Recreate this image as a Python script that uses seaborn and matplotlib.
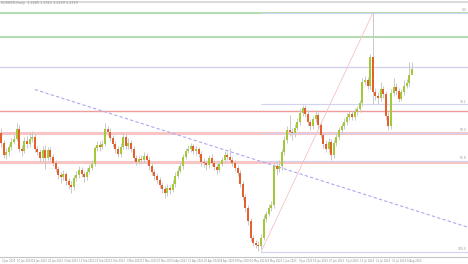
import matplotlib
matplotlib.use("Agg")
import matplotlib.pyplot as plt
import seaborn as sns
import numpy as np

# ---------------- data ----------------
first_open = 1.167
closes = [
    1.157, 1.145, 1.148, 1.153, 1.158, 1.161, 1.171, 1.151, 1.149, 1.159,
    1.156, 1.161, 1.163, 1.151, 1.148, 1.142, 1.150, 1.142, 1.150, 1.143,
    1.137, 1.131, 1.125, 1.123, 1.126, 1.119, 1.115, 1.113, 1.122, 1.125,
    1.130, 1.126, 1.123, 1.128, 1.132, 1.136, 1.152, 1.155, 1.153, 1.156,
    1.171, 1.168, 1.162, 1.156, 1.151, 1.146, 1.153, 1.163, 1.154, 1.157,
    1.151, 1.142, 1.138, 1.141, 1.140, 1.144, 1.140, 1.134, 1.128, 1.124,
    1.120, 1.115, 1.111, 1.107, 1.112, 1.110, 1.116, 1.124, 1.129, 1.134,
    1.143, 1.149, 1.151, 1.154, 1.149, 1.151, 1.146, 1.138, 1.137, 1.135,
    1.142, 1.137, 1.133, 1.130, 1.136, 1.140, 1.145, 1.143, 1.140, 1.137,
    1.132, 1.127, 1.116, 1.103, 1.092, 1.079, 1.062, 1.057, 1.055, 1.054,
    1.062, 1.081, 1.086, 1.092, 1.095, 1.134, 1.131, 1.134, 1.148, 1.160,
    1.170, 1.168, 1.167, 1.172, 1.178, 1.187, 1.192, 1.186, 1.178, 1.174,
    1.181, 1.185, 1.175, 1.165, 1.156, 1.151, 1.158, 1.145, 1.157, 1.163,
    1.170, 1.174, 1.178, 1.183, 1.186, 1.183, 1.188, 1.191, 1.197, 1.218,
    1.220, 1.214, 1.243, 1.208, 1.204, 1.202, 1.211, 1.206, 1.184, 1.174,
    1.207, 1.213, 1.209, 1.201, 1.208, 1.214, 1.217, 1.225, 1.231,
]
highs = [
    1.172, 1.160, 1.152, 1.156, 1.162, 1.166, 1.177, 1.175, 1.155, 1.163,
    1.164, 1.167, 1.169, 1.166, 1.154, 1.151, 1.154, 1.155, 1.153, 1.153,
    1.146, 1.140, 1.134, 1.128, 1.130, 1.128, 1.122, 1.119, 1.125, 1.129,
    1.134, 1.133, 1.129, 1.132, 1.136, 1.140, 1.154, 1.159, 1.159, 1.160,
    1.177, 1.174, 1.172, 1.165, 1.159, 1.154, 1.157, 1.167, 1.166, 1.162,
    1.160, 1.154, 1.145, 1.144, 1.145, 1.148, 1.147, 1.143, 1.137, 1.131,
    1.127, 1.123, 1.118, 1.114, 1.116, 1.115, 1.120, 1.128, 1.133, 1.138,
    1.146, 1.152, 1.155, 1.157, 1.156, 1.154, 1.153, 1.149, 1.142, 1.140,
    1.145, 1.146, 1.140, 1.136, 1.139, 1.143, 1.149, 1.148, 1.152, 1.143,
    1.140, 1.135, 1.130, 1.119, 1.106, 1.095, 1.082, 1.065, 1.060, 1.059,
    1.066, 1.085, 1.089, 1.096, 1.099, 1.137, 1.138, 1.140, 1.151, 1.164,
    1.174, 1.185, 1.172, 1.176, 1.182, 1.191, 1.195, 1.195, 1.190, 1.181,
    1.184, 1.190, 1.188, 1.178, 1.168, 1.160, 1.162, 1.161, 1.160, 1.167,
    1.173, 1.177, 1.182, 1.187, 1.189, 1.189, 1.192, 1.194, 1.200, 1.222,
    1.224, 1.223, 1.246, 1.287, 1.212, 1.208, 1.218, 1.214, 1.209, 1.188,
    1.211, 1.222, 1.217, 1.212, 1.211, 1.220, 1.221, 1.238, 1.238,
]
lows = [
    1.153, 1.142, 1.141, 1.144, 1.150, 1.156, 1.159, 1.148, 1.144, 1.147,
    1.152, 1.153, 1.158, 1.148, 1.145, 1.138, 1.139, 1.131, 1.140, 1.140,
    1.134, 1.128, 1.121, 1.117, 1.120, 1.115, 1.111, 1.107, 1.110, 1.119,
    1.122, 1.123, 1.118, 1.120, 1.126, 1.130, 1.134, 1.149, 1.149, 1.151,
    1.154, 1.165, 1.159, 1.153, 1.147, 1.143, 1.143, 1.151, 1.151, 1.151,
    1.148, 1.139, 1.135, 1.136, 1.136, 1.137, 1.136, 1.130, 1.125, 1.120,
    1.117, 1.112, 1.107, 1.102, 1.104, 1.106, 1.108, 1.113, 1.122, 1.127,
    1.131, 1.141, 1.147, 1.148, 1.146, 1.145, 1.143, 1.134, 1.133, 1.130,
    1.132, 1.134, 1.130, 1.126, 1.128, 1.134, 1.138, 1.140, 1.137, 1.134,
    1.129, 1.124, 1.113, 1.100, 1.088, 1.075, 1.059, 1.054, 1.052, 1.049,
    1.051, 1.060, 1.078, 1.084, 1.089, 1.092, 1.125, 1.128, 1.130, 1.145,
    1.157, 1.164, 1.160, 1.163, 1.170, 1.175, 1.184, 1.183, 1.174, 1.170,
    1.171, 1.178, 1.172, 1.162, 1.152, 1.148, 1.148, 1.140, 1.142, 1.154,
    1.160, 1.167, 1.171, 1.175, 1.180, 1.180, 1.180, 1.185, 1.188, 1.194,
    1.215, 1.211, 1.211, 1.196, 1.200, 1.196, 1.199, 1.202, 1.180, 1.170,
    1.171, 1.204, 1.205, 1.198, 1.199, 1.205, 1.212, 1.214, 1.227,
]
date_labels = [
    "2 Jan 2023", "10 Jan 2023", "18 Jan 2023", "26 Jan 2023", "3 Feb 2023",
    "13 Feb 2023", "21 Feb 2023", "1 Mar 2023", "9 Mar 2023", "17 Mar 2023",
    "27 Mar 2023", "4 Apr 2023", "12 Apr 2023", "20 Apr 2023", "28 Apr 2023",
    "8 May 2023", "16 May 2023", "24 May 2023", "1 Jun 2023", "9 Jun 2023",
    "19 Jun 2023", "27 Jun 2023", "5 Jul 2023", "13 Jul 2023", "21 Jul 2023",
    "31 Jul 2023", "8 Aug 2023",
]
green_levels = [1.287, 1.263]
lavender_levels = [1.233]
red_thin_levels = [1.189]
red_band_levels = [1.167, 1.138]
fib_low, fib_high = 1.048, 1.287
fib_low_idx, fib_high_idx = 100, 143
fib_ratios = [0.0, 0.382, 0.5, 0.618, 1.0]
fib_names = ["0.0", "38.2", "50.0", "61.8", "100.0"]
trend_idx = [13, 143]
trend_val = [1.2105, 1.1030]
header = "EURUSD,Daily  1.2265 1.2312 1.2259 1.2310"

# ---------------- figure ----------------
sns.set_theme(style="white")
plt.rcParams["font.family"] = ["DejaVu Sans"]

W, H = 468, 264
fig = plt.figure(figsize=(W / 100, H / 100), dpi=100)
fig.patch.set_facecolor("white")
ax = fig.add_axes([0, 7 / H, 1, 255 / H])
ax.set_facecolor("white")

n = len(closes)
idx = np.arange(n)
opens = np.array([first_open] + closes[:-1])
cl = np.array(closes)
hi = np.array(highs)
lo = np.array(lows)

dx = 2.6
ax.set_xlim(-1 / dx, (W - 1) / dx)
ax.set_ylim(1.043, 1.298)

# horizontal levels
for lv in green_levels:
    ax.axhline(lv, color="#a6d7a0", lw=1.2, zorder=1)
for lv in lavender_levels:
    ax.axhline(lv, color="#cfcfee", lw=0.9, zorder=1)
for lv in red_thin_levels:
    ax.axhline(lv, color="#f29a9a", lw=1.0, zorder=1)
for lv in red_band_levels:
    ax.axhline(lv, color="#f9c4c4", lw=2.2, zorder=1)

# fibonacci
x_end = (W - 1) / dx
for r, name in zip(fib_ratios, fib_names):
    lv = fib_high - (fib_high - fib_low) * r
    ax.plot([fib_low_idx, x_end], [lv, lv], color="#d2d2f2", lw=0.8, zorder=1.5)
    ax.text(0.997, lv + 0.0006, name, transform=ax.get_yaxis_transform(),
            ha="right", va="bottom", fontsize=2.2, color="#9a9a9a")
ax.plot([fib_low_idx, fib_high_idx], [fib_low, fib_high],
        color="#f6c2c2", lw=0.6, zorder=1.5)

# trend line (dashed)
slope = (trend_val[1] - trend_val[0]) / (trend_idx[1] - trend_idx[0])
tx = np.array([trend_idx[0], x_end + 2])
ty = trend_val[0] + slope * (tx - trend_idx[0])
sns.lineplot(x=tx, y=ty, ax=ax, color="#aaaaf0", lw=0.8, linestyle=(0, (3, 2)),
             zorder=2)

# candles
up = cl >= opens
ax.vlines(idx, lo, hi, color="#c9c9c9", lw=0.7, zorder=3)
body_bot = np.minimum(opens, cl)
body_h = np.maximum(np.abs(cl - opens), 0.0007)
ax.bar(idx[up], body_h[up], bottom=body_bot[up], width=0.72,
       color="#a3c93a", edgecolor="none", zorder=4)
ax.bar(idx[~up], body_h[~up], bottom=body_bot[~up], width=0.72,
       color="#e5602a", edgecolor="none", zorder=4)

# axes styling
for s in ["left", "right"]:
    ax.spines[s].set_visible(False)
ax.spines["top"].set_color("#d4d4d4")
ax.spines["top"].set_linewidth(1.2)
ax.spines["bottom"].set_color("#c4c4c4")
ax.spines["bottom"].set_linewidth(0.8)
ax.set_yticks([])
tick_pos = [3 + 6 * k for k in range(len(date_labels))]
ax.set_xticks(tick_pos)
ax.set_xticklabels(date_labels, fontsize=1.8, color="#8a8a8a")
ax.tick_params(axis="x", length=0, pad=1.2)
ax.set_xlabel("")
ax.set_ylabel("")
ax.grid(False)

fig.text(1 / W, 1 - 1 / H, header, ha="left", va="top", fontsize=2.4,
         color="#8a8a8a")

fig.savefig("out.png", dpi=100, facecolor="white")
